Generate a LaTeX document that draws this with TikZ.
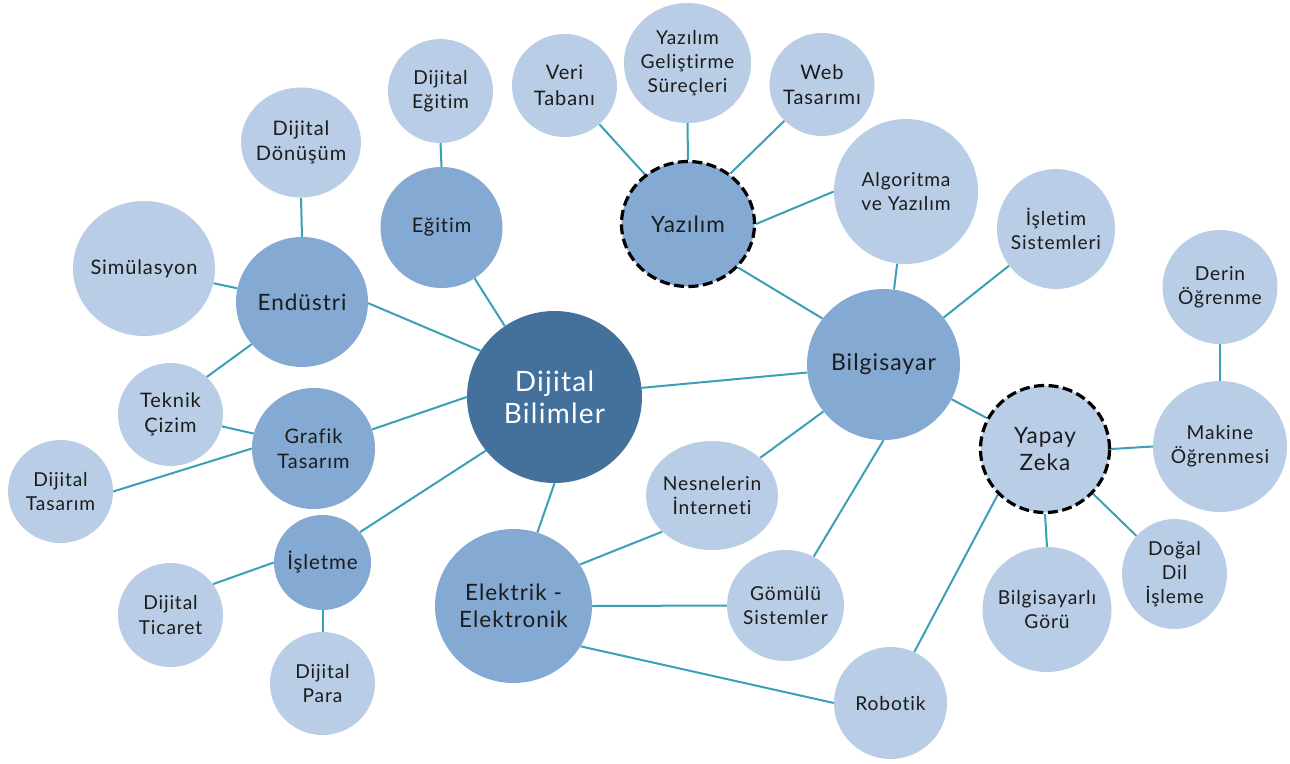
\documentclass[tikz,border=0pt]{standalone}
\usepackage{fontspec}
\setmainfont{Lato}[LetterSpace=4.5, Ligatures=NoCommon]
\usetikzlibrary{shapes.geometric}
\pgfdeclarelayer{back}
\pgfsetlayers{back,main}
\definecolor{coreblue}{HTML}{44709C}
\definecolor{midblue}{HTML}{84A9D2}
\definecolor{liteblue}{HTML}{B9CDE6}
\definecolor{linkteal}{HTML}{3AA0B5}
\definecolor{inkgray}{HTML}{1C1C1C}
\tikzset{
  bub/.style={ellipse, inner sep=0pt, draw=none, fill=#1},
  ring/.style={draw=black, line width=3.2pt, dash pattern=on 10pt off 4.5pt},
  lbl/.style={align=center, inner sep=0pt, text=inkgray,
              font=\fontsize{19.2}{24.3}\selectfont},
  lblm/.style={lbl, font=\fontsize{20}{25.5}\selectfont},
  lblb/.style={lbl, font=\fontsize{22.5}{27.3}\selectfont},
  conn/.style={draw=linkteal, line width=2pt}
}
\begin{document}
\begin{tikzpicture}[x=1pt, y=-1pt]
\useasboundingbox (0,0) rectangle (1290,763);

% centre
\node[bub=coreblue, minimum width=175pt, minimum height=172pt] (db) at (554.5,397) {};
\node[lbl, text=white, font=\fontsize{28}{31.7}\selectfont] (db-t) at (db) {Dijital\\Bilimler};

% education
\node[bub=midblue, minimum width=122pt, minimum height=121pt] (egt) at (441.5,227.5) {};
\node[lblm] (egt-t) at (egt) {Eğitim};
\node[bub=liteblue, minimum width=105pt, minimum height=104pt] (degt) at (440.5,91) {};
\node[lbl] (degt-t) at (degt) {Dijital\\Eğitim};

% industry
\node[bub=midblue, minimum width=132pt, minimum height=130pt] (end) at (302,302) {};
\node[lblb] (end-t) at (end) {Endüstri};
\node[bub=liteblue, minimum width=120pt, minimum height=110pt] (ddon) at (301,142.5) {};
\node[lblm] (ddon-t) at (ddon) {Dijital\\Dönüşüm};
\node[bub=liteblue, minimum width=142pt, minimum height=135pt] (sim) at (144,268.5) {};
\node[lbl, font=\fontsize{20}{26}\selectfont] (sim-t) at (sim) {Simülasyon};
\node[bub=liteblue, minimum width=105pt, minimum height=103pt] (tek) at (170.5,414.5) {};
\node[lblm] (tek-t) at (tek) {Teknik\\Çizim};

% graphic design
\node[bub=midblue, minimum width=123pt, minimum height=121pt] (graf) at (313.5,448.5) {};
\node[lblm] (graf-t) at (graf) {Grafik\\Tasarım};
\node[bub=liteblue, minimum width=105pt, minimum height=103pt] (dtas) at (60.5,491.5) {};
\node[lbl] (dtas-t) at (dtas) {Dijital\\Tasarım};

% business
\node[bub=midblue, minimum width=97pt, minimum height=95pt] (isl) at (322.5,562.5) {};
\node[lbl, font=\fontsize{20.5}{26}\selectfont] (isl-t) at (isl) {İşletme};
\node[bub=liteblue, minimum width=105pt, minimum height=104pt] (dtic) at (170.5,615) {};
\node[lbl] (dtic-t) at (dtic) {Dijital\\Ticaret};
\node[bub=liteblue, minimum width=105pt, minimum height=103pt] (dpara) at (322.5,683.5) {};
\node[lbl] (dpara-t) at (dpara) {Dijital\\Para};

% electrical and electronics
\node[bub=midblue, minimum width=157pt, minimum height=154pt] (elk) at (513.5,606) {};
\node[lblb] (elk-t) at (elk) {Elektrik -\\Elektronik};
\node[bub=liteblue, minimum width=132pt, minimum height=109pt] (iot) at (712,495.5) {};
\node[lbl] (iot-t) at (iot) {Nesnelerin\\İnterneti};
\node[bub=liteblue, minimum width=117pt, minimum height=111pt] (gom) at (785.5,605.5) {};
\node[lbl] (gom-t) at (gom) {Gömülü\\Sistemler};
\node[bub=liteblue, minimum width=113pt, minimum height=112pt] (rob) at (890.5,703) {};
\node[lbl] (rob-t) at (rob) {Robotik};

% computing
\node[bub=midblue, minimum width=153pt, minimum height=151pt] (bil) at (883.5,364.5) {};
\node[lbl, font=\fontsize{23}{28}\selectfont] (bil-t) at (bil) {Bilgisayar};
\node[bub=liteblue, minimum width=144pt, minimum height=145pt] (alg) at (906,191.5) {};
\node[lbl] (alg-t) at (alg) {Algoritma\\ve Yazılım};
\node[bub=liteblue, minimum width=118pt, minimum height=120pt] (ist) at (1056,229) {};
\node[lbl] (ist-t) at (ist) {İşletim\\Sistemleri};

% software
\node[bub=midblue, ring, minimum width=133pt, minimum height=125pt] (yaz) at (688,224) {};
\node[lbl, font=\fontsize{22.5}{28}\selectfont] (yaz-t) at (yaz) {Yazılım};
\node[bub=liteblue, minimum width=105pt, minimum height=103pt] (vt) at (564.5,85.5) {};
\node[lblm] (vt-t) at (vt) {Veri\\Tabanı};
\node[bub=liteblue, minimum width=127pt, minimum height=120pt] (ygs) at (687.5,63) {};
\node[lbl] (ygs-t) at (ygs) {Yazılım\\Geliştirme\\Süreçleri};
\node[bub=liteblue, minimum width=105pt, minimum height=103pt] (web) at (822,84.5) {};
\node[lblm] (web-t) at (web) {Web\\Tasarımı};

% artificial intelligence
\node[bub=liteblue, ring, minimum width=129pt, minimum height=127pt] (yz) at (1045,449) {};
\node[lblb] (yz-t) at (yz) {Yapay\\Zeka};
\node[bub=liteblue, minimum width=115pt, minimum height=114pt] (der) at (1220,287) {};
\node[lbl] (der-t) at (der) {Derin\\Öğrenme};
\node[bub=liteblue, minimum width=134pt, minimum height=131pt] (mak) at (1220,446.5) {};
\node[lbl] (mak-t) at (mak) {Makine\\Öğrenmesi};
\node[bub=liteblue, minimum width=105pt, minimum height=110pt] (dog) at (1174.5,574) {};
\node[lbl] (dog-t) at (dog) {Doğal\\Dil\\İşleme};
\node[bub=liteblue, minimum width=129pt, minimum height=125pt] (bg) at (1047,609.5) {};
\node[lbl] (bg-t) at (bg) {Bilgisayarlı\\Görü};

% connectors
\begin{pgfonlayer}{back}
\draw[conn] (end.90) -- (ddon.270);
\draw[conn] (sim.-12) -- (end.168);
\draw[conn] (tek.46) -- (end.220);
\draw[conn] (end.-1) -- (db.148);
\draw[conn] (tek.-13) -- (graf.166);
\draw[conn] (dtas.0) -- (graf.180);
\draw[conn] (graf.18) -- (db.180);
\draw[conn] (isl.39) -- (db.218);
\draw[conn] (isl.180) -- (dtic.36);
\draw[conn] (isl.270) -- (dpara.90);
\draw[conn] (egt.90) -- (degt.270);
\draw[conn] (egt.-57) -- (db.125);
\draw[conn] (db.270) -- (elk.72);
\draw[conn] (db.6) -- (bil.186);
\draw[conn] (elk.32) -- (iot.216);
\draw[conn] (elk.0) -- (gom.180);
\draw[conn] (elk.-31.5) -- (rob.180);
\draw[conn] (iot.38) -- (bil.218);
\draw[conn] (gom.60) -- (bil.270);
\draw[conn] (yaz.-41) -- (bil.143);
\draw[conn] (bil.82.5) -- (alg.263);
\draw[conn] (bil.38) -- (ist.218.6);
\draw[conn] (bil.-27.5) -- (yz.152.5);
\draw[conn] (yaz.0) -- (alg.180);
\draw[conn] (vt.-48.6) -- (yaz.131.7);
\draw[conn] (ygs.270) -- (yaz.90);
\draw[conn] (web.224) -- (yaz.50);
\draw[conn] (yz.0) -- (mak.180);
\draw[conn] (der.270) -- (mak.90);
\draw[conn] (yz.270) -- (bg.90);
\draw[conn] (yz.-43.6) -- (dog.135.6);
\draw[conn] (yz.224) -- (rob.65);
\end{pgfonlayer}
\end{tikzpicture}
\end{document}
